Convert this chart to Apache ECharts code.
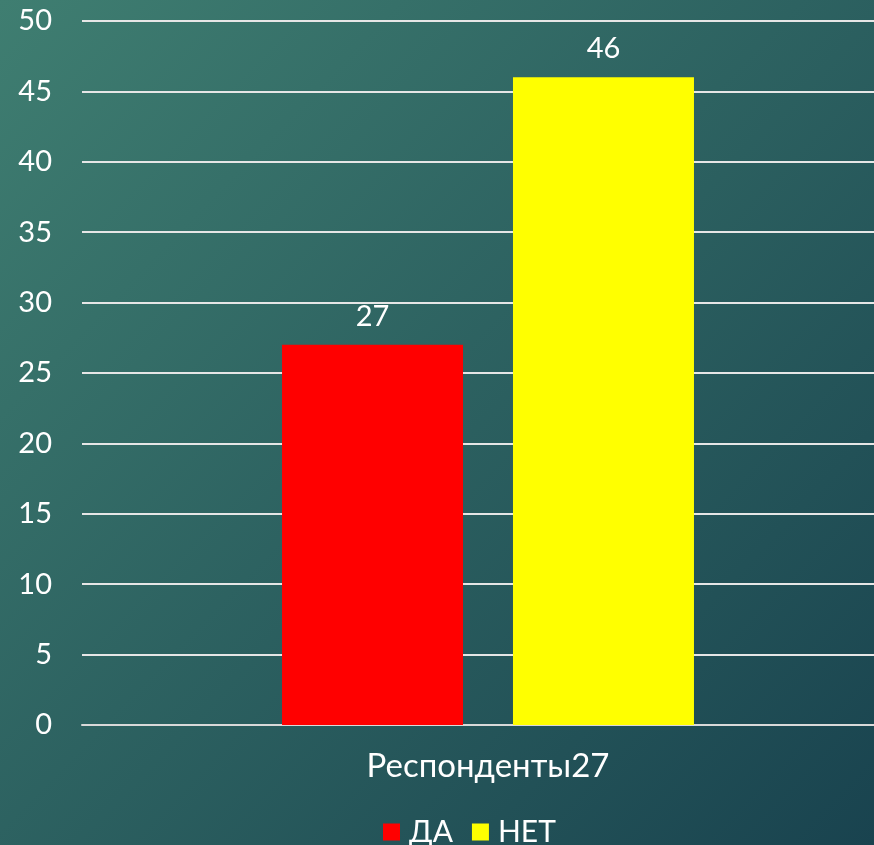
<!DOCTYPE html>
<html>
<head>
<meta charset="utf-8">
<script src="https://cdn.jsdelivr.net/npm/echarts@6/dist/echarts.min.js"></script>
<style>
  html, body { margin: 0; padding: 0; }
  #chart { width: 874px; height: 845px; }
</style>
</head>
<body>
<div id="chart"></div>
<script>
const categories = ['Респонденты27'];
const seriesNames = ['ДА', 'НЕТ'];
const daValues = [27];
const netValues = [46];
const seriesColors = ['#ff0000', '#ffff00'];

const fontFamily = 'Lato, "Noto Sans", sans-serif';

let myChart = echarts.init(document.getElementById('chart'));

let option = {
    backgroundColor: new echarts.graphic.LinearGradient(0, 0, 1, 1, [
        { offset: 0, color: '#3f7e71' },
        { offset: 1, color: '#19434f' }
    ]),
    textStyle: { fontFamily: fontFamily },
    legend: {
        top: 812,
        left: 378,
        itemWidth: 17,
        itemHeight: 17,
        itemGap: 19,
        icon: 'rect',
        textStyle: {
            color: '#ffffff',
            fontSize: 30,
            fontFamily: fontFamily,
            padding: [0, 0, 0, 4],
            width: 47
        },
        data: seriesNames
    },
    grid: { left: 82, right: -20, top: 21, bottom: 120, outerBoundsMode: 'none' },
    xAxis: {
        type: 'category',
        data: categories,
        axisTick: { show: false },
        axisLine: { lineStyle: { color: '#d9d9d9', width: 2 } },
        axisLabel: { color: '#ffffff', fontSize: 33, margin: 25, fontFamily: fontFamily }
    },
    yAxis: {
        type: 'value',
        min: 0,
        max: 50,
        interval: 5,
        axisLine: { show: false },
        axisTick: { show: false },
        axisLabel: { color: '#ffffff', fontSize: 29, margin: 30, fontFamily: fontFamily },
        splitLine: { lineStyle: { color: '#e6e6e6', width: 2 } }
    },
    series: [
        {
            name: seriesNames[0],
            type: 'bar',
            data: daValues,
            barWidth: 181,
            barGap: '27.6%',
            itemStyle: { color: seriesColors[0] },
            label: { show: true, position: 'top', distance: 14, color: '#ffffff', fontSize: 29, fontFamily: fontFamily }
        },
        {
            name: seriesNames[1],
            type: 'bar',
            data: netValues,
            barWidth: 181,
            itemStyle: { color: seriesColors[1] },
            label: { show: true, position: 'top', distance: 14, color: '#ffffff', fontSize: 29, fontFamily: fontFamily }
        }
    ]
};

myChart.setOption(option);
</script>
</body>
</html>
